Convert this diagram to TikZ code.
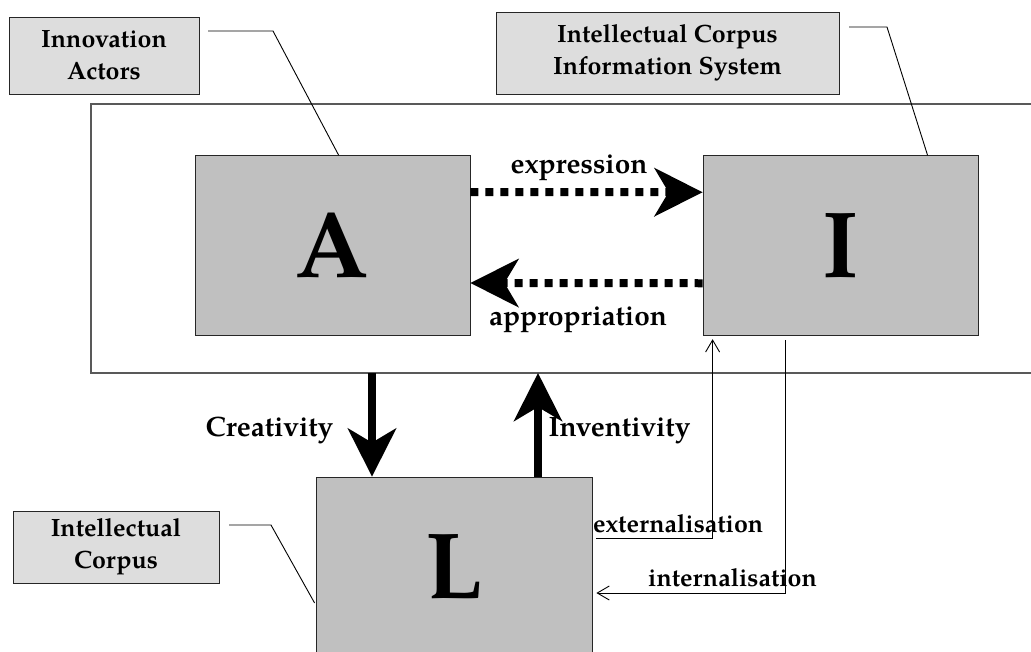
\documentclass[tikz,border=0pt]{standalone}
\usepackage{fontspec}
\setmainfont{TeX Gyre Pagella}
\usetikzlibrary{arrows.meta}
\definecolor{boxgray}{HTML}{C0C0C0}
\definecolor{taggray}{HTML}{DDDDDD}
\tikzset{
  bigbox/.style={draw=black!85, fill=boxgray, line width=0.8pt, minimum width=275pt, minimum height=180pt, inner sep=0pt, font=\bfseries\fontsize{94}{94}\selectfont},
  tagbox/.style={draw=black!85, fill=taggray, line width=0.8pt, align=center, inner sep=0pt, font=\bfseries\fontsize{25}{32}\selectfont},
  leader/.style={draw=black, line width=0.9pt},
  frameline/.style={draw=black!65, line width=1.4pt},
  bigarrow/.style={draw=black, line width=8pt, -{Stealth[length=48pt,width=48pt,inset=14pt]}},
  dotarrow/.style={draw=black, line width=8pt, dash pattern=on 8pt off 7pt, -{Stealth[length=48pt,width=48pt,inset=14pt]}},
  thinarrow/.style={draw=black, line width=0.9pt, -{Straight Barb[length=12pt,width=14pt]}},
  lbl/.style={inner sep=0pt, anchor=base, font=\bfseries\fontsize{28}{28}\selectfont},
  slbl/.style={inner sep=0pt, anchor=base west, font=\bfseries\fontsize{25}{25}\selectfont}
}
\begin{document}
\begin{tikzpicture}[x=1pt,y=-1pt]
\useasboundingbox (0,0) rectangle (1031,651);
\clip (0,0) rectangle (1031,651);
% frame
\draw[frameline] (1040,104) -- (91,104) -- (91,373) -- (1040,373);
% main boxes
\node[bigbox] (A) at (332.5,245.5) {A};
\node[bigbox] (I) at (840.5,245.75) {I};
\node[bigbox, minimum width=276pt] (L) at (454,567) {L};
% tag boxes
\node[tagbox, minimum width=190pt, minimum height=77pt] (IA) at (104,55.5) {Innovation\\Actors};
\node[tagbox, minimum width=343pt, minimum height=82pt] (ICIS) at (667.5,53) {Intellectual Corpus\\Information System};
\node[tagbox, minimum width=206pt, minimum height=72pt] (IC) at (116,547) {Intellectual\\Corpus};
% leaders
\coordinate (ia1) at (208,31);
\coordinate (ia2) at (273,31);
\draw[leader] (ia1) -- (ia2) -- ([xshift=144pt]A.north west);
\coordinate (is1) at (849,27);
\coordinate (is2) at (887,27);
\draw[leader] (is1) -- (is2) -- ([xshift=225pt]I.north west);
\coordinate (ic1) at (229,525);
\coordinate (ic2) at (271,525);
\draw[leader] (ic1) -- (ic2) -- ([yshift=-36pt,xshift=-1pt]L.west);
% dotted arrows
\draw[dotarrow] ([yshift=53.5pt]A.east) -- ([yshift=53.5pt]I.west);
\draw[dotarrow] ([yshift=-37.5pt]I.west) -- ([yshift=-37.5pt]A.east);
\node[lbl] (expr) at (579,173) {expression};
\node[lbl] (appr) at (578,325) {appropriation};
% big vertical arrows
\coordinate (cr) at (372,373);
\coordinate (iv) at (538,373);
\draw[bigarrow] (cr) -- (cr |- L.north);
\draw[bigarrow] (iv |- L.north) -- (iv);
\node[lbl] (crea) at (269.5,436) {Creativity};
\node[lbl] (inve) at (619.5,436) {Inventivity};
% thin arrows
\draw[thinarrow] ([xshift=4pt,yshift=29pt]L.east) -| ([xshift=10pt,yshift=-3pt]I.south west);
\draw[thinarrow] ([xshift=83pt,yshift=-4pt]I.south west) |- ([xshift=4pt,yshift=-26pt]L.east);
\node[slbl] (ext) at (593,532) {externalisation};
\node[slbl] (int) at (648,586) {internalisation};
\end{tikzpicture}
\end{document}
